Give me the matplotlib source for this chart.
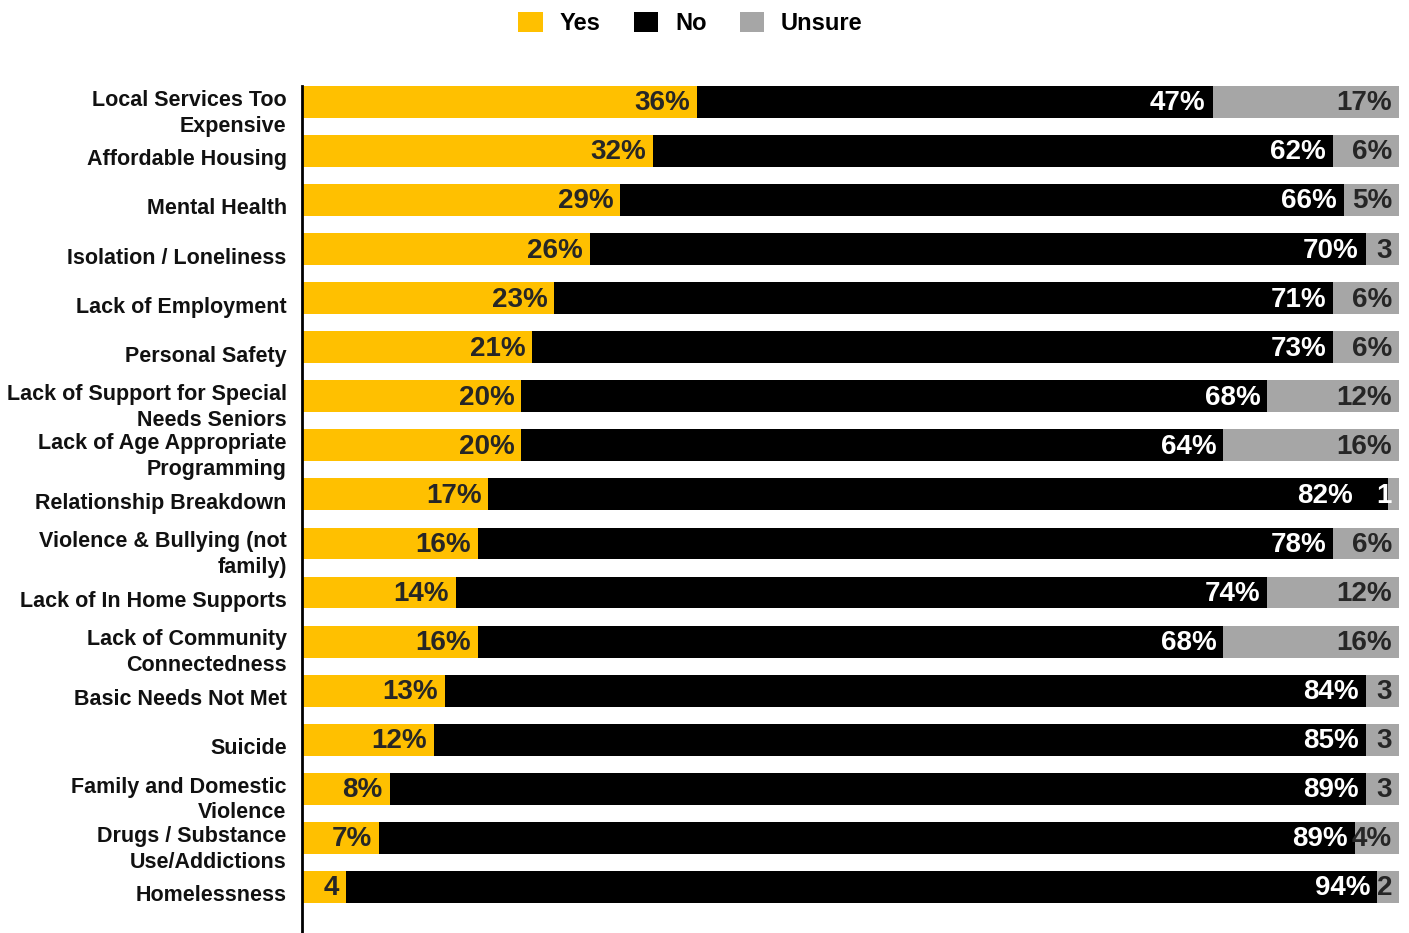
import numpy as np
import matplotlib.pyplot as plt
from matplotlib.patches import Patch

plt.rcParams['font.family'] = ['Liberation Sans', 'DejaVu Sans']

# survey responses, top row first
categories = [
    "Local Services Too\nExpensive",
    "Affordable Housing",
    "Mental Health",
    "Isolation / Loneliness",
    "Lack of Employment",
    "Personal Safety",
    "Lack of Support for Special\nNeeds Seniors",
    "Lack of Age Appropriate\nProgramming",
    "Relationship Breakdown",
    "Violence & Bullying (not\nfamily)",
    "Lack of In Home Supports",
    "Lack of Community\nConnectedness",
    "Basic Needs Not Met",
    "Suicide",
    "Family and Domestic\nViolence",
    "Drugs / Substance\nUse/Addictions",
    "Homelessness",
]
yes = [36, 32, 29, 26, 23, 21, 20, 20, 17, 16, 14, 16, 13, 12, 8, 7, 4]
no = [47, 62, 66, 70, 71, 73, 68, 64, 82, 78, 74, 68, 84, 85, 89, 89, 94]
unsure = [17, 6, 5, 3, 6, 6, 12, 16, 1, 6, 12, 16, 3, 3, 3, 4, 2]

series_names = ["Yes", "No", "Unsure"]
colors = ["#FFC000", "#000000", "#A6A6A6"]
label_colors = ["#262626", "#FFFFFF", "#262626"]
# below this value the % sign is dropped because it won't fit
min_pct = [5, 0, 4]

data = np.array([yes, no, unsure], dtype=float)
share = data / data.sum(axis=0) * 100   # 100% stacked

fig = plt.figure(figsize=(14.09, 9.33), dpi=100)
ax = fig.add_axes([302 / 1409, 0, 1097 / 1409, 847 / 933])

y = np.arange(len(categories))
left = np.zeros(len(categories))
for k in range(3):
    ax.barh(y, share[k], left=left, height=0.65, color=colors[k], linewidth=0)
    for i in range(len(categories)):
        v = int(data[k, i])
        txt = f"{v}%" if v >= min_pct[k] else f"{v}"
        col = label_colors[k]
        dx = -5
        if k == 2 and v < 2:
            # tiny slice: label spills onto the black bar
            col = "white"
        if k == 1 and data[2, i] < 2:
            dx = -25
        ax.annotate(txt, (left[i] + share[k, i], y[i]), xytext=(dx, -1),
                    textcoords="offset points", ha="right", va="center",
                    fontsize=20, fontweight="bold", color=col)
    left += share[k]

ax.set_xlim(0, 100)
ax.set_ylim(16.94, -0.326)
ax.set_xticks([])
ax.set_yticks(y + 0.13)
ax.set_yticklabels(categories, fontsize=15.5, fontweight="bold",
                   linespacing=1.3, color="#111111")
ax.tick_params(axis="y", length=0, pad=11)
for s in ["top", "right", "bottom"]:
    ax.spines[s].set_visible(False)
ax.spines["left"].set_linewidth(2)

handles = [Patch(facecolor=c, edgecolor="none") for c in colors]
fig.legend(handles, series_names, loc="center", bbox_to_anchor=(0.49, 0.975),
           ncol=3, frameon=False, handlelength=1.05, handleheight=0.95,
           handletextpad=0.7, columnspacing=1.4,
           prop={"size": 17, "weight": "bold"})

fig.savefig("out.png", dpi=100)
